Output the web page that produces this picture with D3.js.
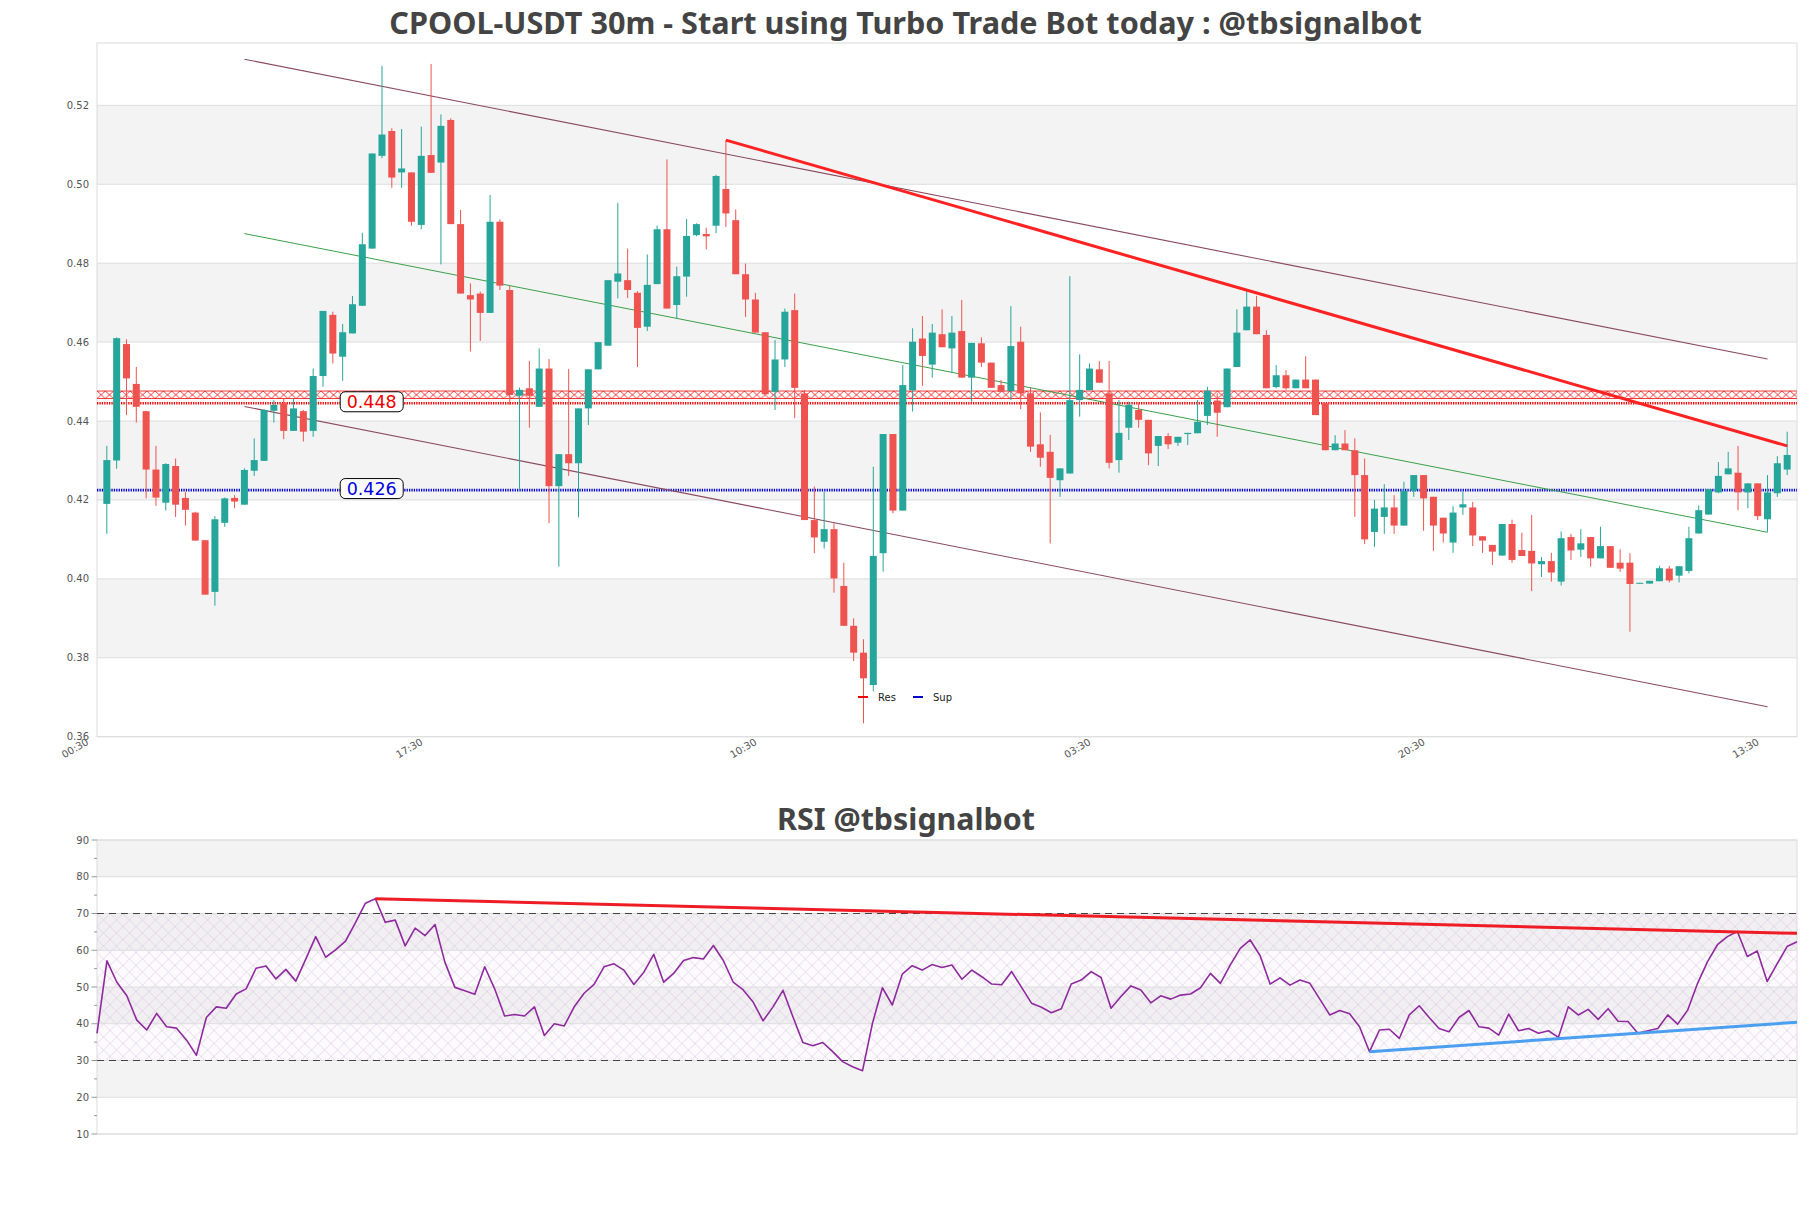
<!DOCTYPE html>
<html>
<head>
<meta charset="utf-8">
<script src="https://cdn.jsdelivr.net/npm/d3@7"></script>
<style>
  html, body { margin: 0; padding: 0; background: #fff; }
  svg { display: block; }
</style>
</head>
<body>
<svg id="chart" width="1811" height="1208"></svg>
<script>
// ---------------- DATA ----------------
const openP = [
.4190,.4300,.4595,.4494,.4425,.4277,.4193,.4286,.4205,.4168,.4098,.3967,.4142,.4205,.4188,.4274,.4299,.4426,.4445,.4375,
.4425,.4375,.4514,.4669,.4563,.4622,.4692,.4837,.5072,.5135,.5030,.5030,.4897,.5074,.5055,.5163,.4899,.4719,.4723,.4674,
.4905,.4732,.4464,.4483,.4436,.4533,.4235,.4316,.4293,.4432,.4531,.4591,.4753,.4757,.4725,.4639,.4747,.4886,.4694,.4766,
.4871,.4874,.4895,.4988,.4909,.4772,.4708,.4625,.4474,.4556,.4681,.4470,.4149,.4094,.4126,.3982,.3881,.3813,.3731,.4065,
.4367,.4173,.4478,.4609,.4543,.4620,.4584,.4628,.4510,.4597,.4548,.4491,.4476,.4601,.4470,.4341,.4322,.4250,.4267,.4453,
.4478,.4531,.4470,.4301,.4383,.4428,.4403,.4337,.4362,.4345,.4367,.4369,.4413,.4452,.4435,.4537,.4630,.4690,.4618,.4486,
.4516,.4483,.4505,.4505,.4445,.4326,.4343,.4326,.4263,.4119,.4157,.4181,.4135,.4223,.4263,.4208,.4155,.4092,.4181,.4181,
.4108,.4086,.4059,.4139,.4073,.4071,.4037,.4045,.3993,.4106,.4074,.4106,.4052,.4083,.4041,.4041,.3988,.3988,.3994,.4026,
.4008,.4020,.4115,.4163,.4219,.4265,.4269,.4219,.4242,.4151,.4217,.4277
];
const highP = [
.4337,.4612,.4607,.4537,.4426,.4337,.4293,.4305,.4220,.4170,.4098,.4159,.4206,.4212,.4280,.4356,.4430,.4453,.4457,.4457,
.4428,.4533,.4679,.4677,.4646,.4717,.4877,.5078,.5300,.5142,.5140,.5030,.5146,.5305,.5177,.5167,.4935,.4749,.4728,.4973,
.4911,.4742,.4485,.4552,.4584,.4557,.4316,.4532,.4432,.4531,.4600,.4757,.4953,.4837,.4729,.4822,.4895,.5063,.4791,.4912,
.4901,.4890,.5024,.5112,.4936,.4799,.4725,.4625,.4605,.4685,.4723,.4478,.4234,.4221,.4141,.4041,.3900,.3847,.4284,.4367,
.4367,.4542,.4635,.4666,.4646,.4683,.4666,.4707,.4598,.4612,.4548,.4504,.4691,.4639,.4485,.4422,.4365,.4280,.4767,.4569,
.4546,.4552,.4552,.4453,.4449,.4445,.4403,.4362,.4369,.4360,.4370,.4453,.4487,.4470,.4533,.4683,.4732,.4717,.4630,.4542,
.4529,.4505,.4564,.4505,.4445,.4364,.4377,.4356,.4305,.4200,.4240,.4212,.4246,.4263,.4263,.4208,.4155,.4184,.4221,.4195,
.4108,.4086,.4139,.4150,.4117,.4162,.4055,.4066,.4120,.4114,.4126,.4106,.4132,.4083,.4075,.4065,.3990,.3995,.4033,.4033,
.4032,.4132,.4186,.4227,.4296,.4322,.4337,.4242,.4242,.4263,.4311,.4373
];
const lowP = [
.4114,.4279,.4415,.4396,.4204,.4185,.4173,.4157,.4135,.4097,.3960,.3932,.4132,.4179,.4188,.4261,.4299,.4396,.4354,.4375,
.4348,.4360,.4487,.4546,.4502,.4622,.4692,.4837,.5066,.4991,.4991,.4895,.4886,.5029,.4797,.4899,.4723,.4576,.4603,.4674,
.4732,.4441,.4225,.4383,.4436,.4141,.4031,.4261,.4156,.4390,.4531,.4591,.4711,.4712,.4537,.4628,.4747,.4685,.4660,.4715,
.4868,.4835,.4876,.4892,.4772,.4664,.4624,.4468,.4428,.4537,.4407,.4149,.4065,.4077,.3965,.3881,.3792,.3634,.3715,.4018,
.4166,.4173,.4424,.4489,.4510,.4587,.4522,.4510,.4449,.4537,.4484,.4474,.4453,.4430,.4322,.4284,.4090,.4208,.4267,.4411,
.4478,.4497,.4280,.4269,.4352,.4383,.4288,.4286,.4329,.4337,.4339,.4369,.4390,.4360,.4435,.4537,.4630,.4620,.4483,.4483,
.4479,.4483,.4483,.4415,.4326,.4326,.4326,.4157,.4088,.4081,.4114,.4114,.4135,.4208,.4122,.4071,.4092,.4066,.4162,.4083,
.4066,.4035,.4059,.4041,.4058,.3969,.4005,.3993,.3983,.4048,.4056,.4031,.4052,.4028,.4018,.3866,.3988,.3988,.3994,.3991,
.3991,.4014,.4115,.4163,.4217,.4265,.4174,.4179,.4149,.4119,.4208,.4263
];
const closeP = [
.4301,.4610,.4508,.4436,.4277,.4206,.4291,.4188,.4175,.4097,.3960,.4151,.4204,.4196,.4276,.4301,.4428,.4441,.4375,.4432,
.4373,.4514,.4679,.4571,.4625,.4696,.4848,.5078,.5126,.5017,.5040,.4905,.5072,.5029,.5148,.4899,.4723,.4708,.4674,.4905,
.4743,.4466,.4479,.4464,.4533,.4235,.4316,.4293,.4432,.4531,.4600,.4757,.4774,.4732,.4636,.4745,.4886,.4685,.4767,.4869,
.4899,.4868,.5021,.4926,.4772,.4708,.4624,.4468,.4556,.4677,.4484,.4149,.4105,.4126,.4001,.3881,.3813,.3748,.4058,.4367,
.4173,.4491,.4601,.4565,.4624,.4587,.4624,.4510,.4598,.4548,.4484,.4474,.4590,.4470,.4335,.4307,.4256,.4280,.4453,.4479,
.4533,.4497,.4294,.4370,.4441,.4403,.4318,.4362,.4341,.4360,.4370,.4398,.4477,.4421,.4533,.4624,.4690,.4620,.4483,.4516,
.4483,.4505,.4483,.4415,.4326,.4343,.4326,.4263,.4100,.4178,.4181,.4135,.4223,.4263,.4204,.4135,.4115,.4168,.4189,.4110,
.4097,.4069,.4139,.4048,.4058,.4039,.4045,.4016,.4103,.4072,.4090,.4052,.4083,.4028,.4026,.3987,.3990,.3995,.4027,.3996,
.4032,.4103,.4174,.4227,.4261,.4280,.4219,.4242,.4159,.4219,.4293,.4314
];
const rsiValues = [
37.4,57.1,51.3,47.6,41.0,38.3,42.8,39.2,38.8,35.6,31.4,41.7,44.6,44.2,48.1,49.5,55.1,55.7,52.2,54.8,
51.6,57.6,63.7,58.1,60.1,62.5,67.5,72.8,74.0,67.6,68.2,61.2,66.0,64.0,67.0,56.7,49.9,49.0,48.0,55.5,
49.5,42.1,42.5,42.1,44.6,36.8,40.0,39.4,44.6,48.3,50.7,55.5,56.3,54.6,50.7,54.0,58.9,51.3,53.7,57.2,
58.0,57.6,61.3,57.2,51.3,49.2,45.9,40.8,44.6,49.1,41.9,34.9,34.0,34.9,32.4,29.7,28.3,27.2,40.1,49.8,
45.1,53.5,55.8,54.6,56.1,55.3,56.0,52.1,54.6,52.8,50.8,50.6,54.2,49.9,45.6,44.5,43.0,44.1,50.8,51.9,
54.2,52.6,44.2,47.4,50.3,49.2,45.7,47.6,46.7,47.8,48.1,49.8,53.7,51.0,56.0,60.5,62.8,58.5,50.8,52.5,
50.5,51.9,51.0,46.7,42.4,43.6,42.7,39.2,32.4,38.3,38.5,36.0,42.4,44.9,41.7,38.7,37.8,41.7,43.6,39.2,
38.8,36.9,42.6,38.1,38.7,37.4,38.1,36.3,44.6,42.4,43.9,41.2,44.1,40.7,40.6,37.4,38.1,38.7,42.4,39.9,
43.7,51.0,56.9,61.5,63.7,65.1,58.3,59.8,51.5,56.3,61.0,62.3
];
const tickIndex = [0, 34, 68, 102, 136, 170];
const tickLabels = ["00:30", "17:30", "10:30", "03:30", "20:30", "13:30"];
const priceTicks = [0.36, 0.38, 0.40, 0.42, 0.44, 0.46, 0.48, 0.50, 0.52];
const rsiTicks = [10, 20, 30, 40, 50, 60, 70, 80, 90];

// levels and trend lines [index, value]
const resLevel = [0.4445];          // dotted resistance line
const resBand = [0.4457, 0.4476];   // hatched resistance zone
const supLevel = [0.4225];
const resLabel = ["0.448"];
const supLabel = ["0.426"];
const channelUpper = [[14, 0.5317], [169, 0.4557]];
const channelMid   = [[14, 0.4875], [169, 0.4118]];
const channelLower = [[14, 0.4437], [169, 0.3676]];
const resTrend     = [[63, 0.5112], [171, 0.4337]];
const rsiResTrend  = [[28, 74.0], [171, 64.6]];
const rsiSupTrend  = [[128, 32.4], [171, 40.4]];
const legendItems = ["Res", "Sup"];

// ---------------- LAYOUT ----------------
const svg = d3.select("#chart");
const L = 97, R = 1797;
const mainTop = 43, mainBot = 736.7;
const rsiTop = 840, rsiBot = 1134;
const UP = "#26a69a", DOWN = "#ef5350";
const n = closeP.length;

const x = d3.scaleLinear().domain([-1, n]).range([L, R]);
const y = d3.scaleLinear().domain([0.36, 0.5358]).range([mainBot, mainTop]);
const xr = d3.scaleLinear().domain([0, rsiValues.length - 1]).range([L, R]);
const yr = d3.scaleLinear().domain([10, 90]).range([rsiBot, rsiTop]);

svg.append("rect").attr("width", 1811).attr("height", 1208).attr("fill", "#fff");

const defs = svg.append("defs");
const bandTopY = y(resBand[1]), bandBotY = y(resBand[0]);
const bh = bandBotY - bandTopY;
const pr = defs.append("pattern").attr("id", "hatchRed")
  .attr("patternUnits", "userSpaceOnUse").attr("width", 8.3).attr("height", bh)
  .attr("x", L).attr("y", bandTopY);
pr.append("path").attr("d", `M0,0 L8.3,${bh} M8.3,0 L0,${bh}`)
  .attr("stroke", "#e22").attr("stroke-width", 0.9).attr("fill", "none");

const ph = defs.append("pattern").attr("id", "hatchRsi")
  .attr("patternUnits", "userSpaceOnUse").attr("width", 13).attr("height", 13)
  .attr("x", L).attr("y", yr(70));
ph.append("path").attr("d", "M0,0 L13,13 M13,0 L0,13")
  .attr("stroke", "#cdbcd9").attr("stroke-width", 0.6).attr("fill", "none").attr("opacity", 0.8);

// ---------------- TITLES ----------------
function fitTitle(txt, cx, baseY, targetW) {
  const t = svg.append("text").attr("x", cx).attr("y", baseY)
    .attr("text-anchor", "middle").attr("font-family", "'Noto Sans', 'Open Sans', sans-serif")
    .attr("font-weight", "bold").attr("font-size", 26).attr("fill", "#444").text(txt);
  const w = t.node().getComputedTextLength();
  if (w > 0) t.attr("font-size", 26 * targetW / w);
}
fitTitle("CPOOL-USDT 30m - Start using Turbo Trade Bot today : @tbsignalbot", 905.5, 34, 1033);
fitTitle("RSI @tbsignalbot", 906, 830, 258);

// ---------------- MAIN PANEL ----------------
const main = svg.append("g");
// bands
for (let k = 0; k < priceTicks.length - 1; k++) {
  if (k % 2 === 1) {
    main.append("rect").attr("x", L).attr("width", R - L)
      .attr("y", y(priceTicks[k + 1])).attr("height", y(priceTicks[k]) - y(priceTicks[k + 1]))
      .attr("fill", "#f3f3f3");
  }
}
// grid
main.selectAll(".pg").data(priceTicks).join("line")
  .attr("x1", L).attr("x2", R).attr("y1", d => y(d)).attr("y2", d => y(d))
  .attr("stroke", "#dddddd").attr("stroke-width", 1);
// frame
main.append("rect").attr("x", L).attr("y", mainTop).attr("width", R - L).attr("height", mainBot - mainTop)
  .attr("fill", "none").attr("stroke", "#dcdcdc").attr("stroke-width", 1);

// y axis labels
main.selectAll(".pl").data(priceTicks).join("text")
  .attr("x", 89).attr("y", d => y(d)).attr("dy", "0.35em").attr("text-anchor", "end")
  .attr("font-family", "'DejaVu Sans', sans-serif").attr("font-size", 10).attr("fill", "#555")
  .text(d => d.toFixed(2));

// x axis labels
main.selectAll(".xl").data(tickIndex).join("text")
  .attr("transform", d => `translate(${x(d) - 17.5},744) rotate(-30)`)
  .attr("text-anchor", "end")
  .attr("font-family", "'DejaVu Sans', sans-serif").attr("font-size", 10).attr("fill", "#555")
  .text((d, i) => tickLabels[i]);

// resistance band
main.append("rect").attr("x", L).attr("width", R - L).attr("y", bandTopY).attr("height", bh)
  .attr("fill", "url(#hatchRed)");
main.selectAll(".rb").data(resBand).join("line")
  .attr("x1", L).attr("x2", R).attr("y1", d => y(d)).attr("y2", d => y(d))
  .attr("stroke", "#e22").attr("stroke-width", 0.9);
main.selectAll(".rl").data(resLevel).join("line")
  .attr("x1", L).attr("x2", R).attr("y1", d => y(d)).attr("y2", d => y(d))
  .attr("stroke", "#e00").attr("stroke-width", 2.6).attr("stroke-dasharray", "1.3,1.1");
main.selectAll(".sl").data(supLevel).join("line")
  .attr("x1", L).attr("x2", R).attr("y1", d => y(d)).attr("y2", d => y(d))
  .attr("stroke", "#0000cc").attr("stroke-width", 2.6).attr("stroke-dasharray", "1.3,1.1");

// channel lines
const lineGen = d3.line().x(d => x(d[0])).y(d => y(d[1]));
main.append("path").attr("d", lineGen(channelUpper)).attr("stroke", "#8a4a60").attr("stroke-width", 1.1).attr("fill", "none");
main.append("path").attr("d", lineGen(channelLower)).attr("stroke", "#8a4a60").attr("stroke-width", 1.1).attr("fill", "none");
main.append("path").attr("d", lineGen(channelMid)).attr("stroke", "#3aa04a").attr("stroke-width", 1).attr("fill", "none");

// candles
const idx = d3.range(n);
const bw = 7;
const cg = main.append("g");
cg.selectAll(".wick").data(idx).join("line")
  .attr("x1", i => x(i)).attr("x2", i => x(i))
  .attr("y1", i => y(highP[i])).attr("y2", i => y(lowP[i]))
  .attr("stroke", i => closeP[i] >= openP[i] ? UP : DOWN).attr("stroke-width", 1);
cg.selectAll(".body").data(idx).join("rect")
  .attr("x", i => x(i) - bw / 2).attr("width", bw)
  .attr("y", i => y(Math.max(openP[i], closeP[i])))
  .attr("height", i => Math.max(1, Math.abs(y(openP[i]) - y(closeP[i]))))
  .attr("fill", i => closeP[i] >= openP[i] ? UP : DOWN);

// resistance trendline
main.append("path").attr("d", lineGen(resTrend)).attr("stroke", "#ff2222").attr("stroke-width", 3).attr("fill", "none");

// level labels
function levelLabel(txt, price, color) {
  const cx = 371.7, cy = y(price) - 1.5;
  main.append("rect").attr("x", cx - 31.5).attr("y", cy - 10).attr("width", 63).attr("height", 20)
    .attr("rx", 5).attr("fill", "#fff").attr("stroke", "#000").attr("stroke-width", 1);
  main.append("text").attr("x", cx).attr("y", cy).attr("dy", "0.36em").attr("text-anchor", "middle")
    .attr("font-family", "'DejaVu Sans', sans-serif").attr("font-size", 17.5).attr("fill", color).text(txt);
}
levelLabel(resLabel[0], resLevel[0], "#e00");
levelLabel(supLabel[0], supLevel[0], "#0000dd");

// legend
const legColors = ["#e00", "#0000cc"];
const legX = [858, 913];
legendItems.forEach((lab, k) => {
  main.append("line").attr("x1", legX[k]).attr("x2", legX[k] + 10).attr("y1", 697).attr("y2", 697)
    .attr("stroke", legColors[k]).attr("stroke-width", 2);
  main.append("text").attr("x", legX[k] + 20).attr("y", 697).attr("dy", "0.35em")
    .attr("font-family", "'DejaVu Sans', sans-serif").attr("font-size", 10).attr("fill", "#222").text(lab);
});

// ---------------- RSI PANEL ----------------
const rp = svg.append("g");
for (let k = 0; k < rsiTicks.length - 1; k++) {
  if (k % 2 === 1) {
    rp.append("rect").attr("x", L).attr("width", R - L)
      .attr("y", yr(rsiTicks[k + 1])).attr("height", yr(rsiTicks[k]) - yr(rsiTicks[k + 1]))
      .attr("fill", "#f3f3f3");
  }
}
rp.append("rect").attr("x", L).attr("width", R - L).attr("y", yr(70)).attr("height", yr(30) - yr(70))
  .attr("fill", "rgba(235,215,240,0.12)");
rp.append("rect").attr("x", L).attr("width", R - L).attr("y", yr(70)).attr("height", yr(30) - yr(70))
  .attr("fill", "url(#hatchRsi)");
rp.selectAll(".rg").data(rsiTicks).join("line")
  .attr("x1", L).attr("x2", R).attr("y1", d => yr(d)).attr("y2", d => yr(d))
  .attr("stroke", "#dddddd").attr("stroke-width", 1);
rp.append("rect").attr("x", L).attr("y", rsiTop).attr("width", R - L).attr("height", rsiBot - rsiTop)
  .attr("fill", "none").attr("stroke", "#dcdcdc").attr("stroke-width", 1);

// ticks
const minor = d3.range(15, 90, 10);
rp.selectAll(".mt").data(rsiTicks).join("line")
  .attr("x1", 91.5).attr("x2", L).attr("y1", d => yr(d)).attr("y2", d => yr(d))
  .attr("stroke", "#999").attr("stroke-width", 1);
rp.selectAll(".mn").data(minor).join("line")
  .attr("x1", 94).attr("x2", L).attr("y1", d => yr(d)).attr("y2", d => yr(d))
  .attr("stroke", "#999").attr("stroke-width", 1);
rp.selectAll(".rl").data(rsiTicks).join("text")
  .attr("x", 89).attr("y", d => yr(d)).attr("dy", "0.35em").attr("text-anchor", "end")
  .attr("font-family", "'DejaVu Sans', sans-serif").attr("font-size", 10).attr("fill", "#555")
  .text(d => d);

// dashed 70/30
rp.selectAll(".dl").data([70, 30]).join("line")
  .attr("x1", L).attr("x2", R).attr("y1", d => yr(d)).attr("y2", d => yr(d))
  .attr("stroke", "#444").attr("stroke-width", 1.2).attr("stroke-dasharray", "7,5");

// rsi line
const rsiLine = d3.line().x((d, i) => xr(i)).y(d => yr(d));
rp.append("path").attr("d", rsiLine(rsiValues)).attr("fill", "none")
  .attr("stroke", "#8e2a9e").attr("stroke-width", 1.6).attr("stroke-linejoin", "round");

const trendGen = d3.line().x(d => xr(d[0])).y(d => yr(d[1]));
rp.append("path").attr("d", trendGen(rsiResTrend)).attr("stroke", "#ee1c25").attr("stroke-width", 3).attr("fill", "none");
rp.append("path").attr("d", trendGen(rsiSupTrend)).attr("stroke", "#4a9ff0").attr("stroke-width", 3).attr("fill", "none");
</script>
</body>
</html>
